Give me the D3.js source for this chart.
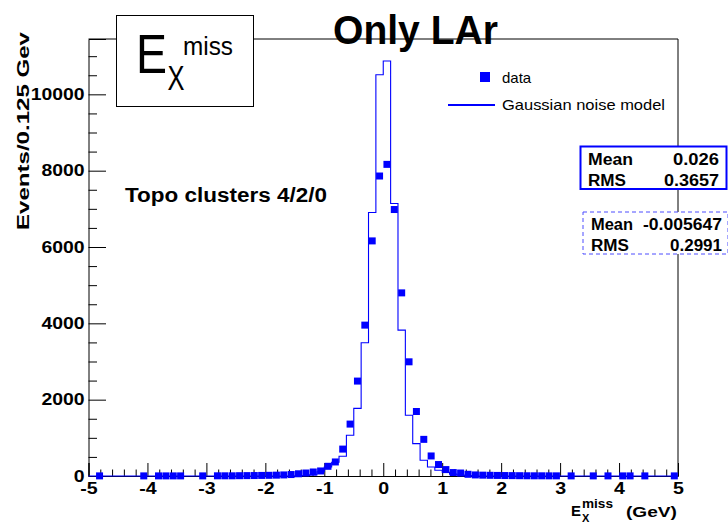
<!DOCTYPE html>
<html>
<head>
<meta charset="utf-8">
<script src="https://cdn.jsdelivr.net/npm/d3@7"></script>
<style>
  html, body { margin: 0; padding: 0; background: #fff; }
  svg { display: block; }
  text { font-family: "Liberation Sans", Arial, Helvetica, sans-serif; }
</style>
</head>
<body>
<svg id="chart" width="728" height="524"></svg>
<script>
// ---------------- data ----------------
const xTicks = [-5, -4, -3, -2, -1, 0, 1, 2, 3, 4, 5];
const yTicks = [0, 2000, 4000, 6000, 8000, 10000];

// Gaussian noise model histogram (bin width 0.125), first bin low edge:
const modelFirstEdge = -1.5;
const modelBinWidth = 0.125;
const modelCounts = [8, 15, 30, 110, 236, 360, 517, 1066, 1771, 3490, 6903, 10515,
                     10872, 7139, 3822, 1590, 849, 411, 236, 150, 97, 50, 25, 12];

// data points (bin centres and counts)
const dataCenters = [-4.8125, -4.0625, -3.8125, -3.6875, -3.5625, -3.4375, -3.0625,
  -2.8125, -2.6875, -2.5625, -2.4375, -2.3125, -2.1875, -2.0625, -1.9375, -1.8125,
  -1.6875, -1.5625, -1.4375, -1.3125, -1.1875, -1.0625, -0.9375, -0.8125, -0.6875,
  -0.5625, -0.4375, -0.3125, -0.1875, -0.0625, 0.0625, 0.1875, 0.3125, 0.4375,
  0.5625, 0.6875, 0.8125, 0.9375, 1.0625, 1.1875, 1.3125, 1.4375, 1.5625, 1.6875,
  1.8125, 1.9375, 2.0625, 2.1875, 2.3125, 2.4375, 2.5625, 2.6875, 2.8125, 2.9375,
  3.1875, 3.5625, 3.8125, 4.0625, 4.1875, 4.4375, 4.9375];
const dataCounts = [3, 3, 3, 3, 3, 3, 3,
  5, 5, 5, 8, 10, 12, 15, 18, 22,
  28, 38, 58, 78, 105, 132, 254, 368, 705,
  1360, 2487, 3953, 6160, 7860, 8165, 6982, 4798, 2992,
  1690, 960, 525, 300, 168, 90, 78, 45, 28, 22,
  18, 15, 12, 10, 8, 6, 5, 5, 4, 4,
  3, 3, 3, 3, 3, 3, 3];

const statsData = [["Mean", "0.026"], ["RMS", "0.3657"]];
const statsModel = [["Mean", "-0.005647"], ["RMS", "0.2991"]];

// ---------------- layout ----------------
const svg = d3.select("#chart");
const X0 = 88.5, X1 = 678, Y0 = 476, Y1 = 39;
const x = d3.scaleLinear().domain([-5, 5]).range([X0, X1]);
const y = d3.scaleLinear().domain([0, 11450]).range([Y0, Y1]);
const BLUE = "#0000ff";

function fit(sel, w) {
  sel.each(function () { this.setAttribute("textLength", w); this.setAttribute("lengthAdjust", "spacingAndGlyphs"); });
  return sel;
}
function stretch(sel, f) {
  sel.each(function () {
    const L = this.getComputedTextLength();
    this.setAttribute("textLength", (L * f).toFixed(1));
    this.setAttribute("lengthAdjust", "spacingAndGlyphs");
  });
  return sel;
}

// frame
svg.append("line").attr("x1", X0).attr("x2", X1).attr("y1", Y1).attr("y2", Y1)
  .attr("stroke", "#000").attr("stroke-width", 1);
svg.append("line").attr("x1", X1).attr("x2", X1).attr("y1", Y1).attr("y2", Y0)
  .attr("stroke", "#000").attr("stroke-width", 1);

// axes
const fmt = d => String(d);
const xMinor = d3.range(-50, 51, 2).map(v => v / 10).filter(v => !xTicks.includes(v));
const gxMinor = svg.append("g").attr("transform", `translate(0,${Y0})`)
  .call(d3.axisBottom(x).tickValues(xMinor).tickSize(-6.5).tickFormat(""));
gxMinor.select(".domain").remove();
const gx = svg.append("g").attr("transform", `translate(0,${Y0})`)
  .call(d3.axisBottom(x).tickValues(xTicks).tickSize(-13).tickPadding(7).tickFormat(fmt));
gx.select(".domain").attr("stroke", "#000");
gx.selectAll("text").attr("font-size", 16).attr("font-weight", "bold").attr("fill", "#000")
  .style("font-family", "'Liberation Sans', Arial, sans-serif");
stretch(gx.selectAll("text"), 1.22);

const yMinor = d3.range(0, 11001, 500).filter(v => !yTicks.includes(v));
const gyMinor = svg.append("g").attr("transform", `translate(${X0},0)`)
  .call(d3.axisLeft(y).tickValues(yMinor).tickSize(-8.5).tickFormat(""));
gyMinor.select(".domain").remove();
const gy = svg.append("g").attr("transform", `translate(${X0},0)`)
  .call(d3.axisLeft(y).tickValues(yTicks).tickSize(-17.5).tickPadding(4).tickFormat(fmt));
gy.select(".domain").attr("stroke", "#000");
gy.selectAll("text").attr("font-size", 16).attr("font-weight", "bold").attr("fill", "#000")
  .style("font-family", "'Liberation Sans', Arial, sans-serif");
stretch(gy.selectAll("text"), 1.21);
svg.selectAll(".tick line").attr("stroke", "#000");

// model histogram (step line)
const pts = [[-5, 0], [modelFirstEdge, 0]];
modelCounts.forEach((c, i) => {
  const lo = modelFirstEdge + i * modelBinWidth;
  pts.push([lo, c]);
  pts.push([lo + modelBinWidth, c]);
});
pts.push([modelFirstEdge + modelCounts.length * modelBinWidth, 0]);
pts.push([5, 0]);
svg.append("path")
  .attr("d", d3.line().x(d => x(d[0])).y(d => y(d[1]))(pts))
  .attr("fill", "none").attr("stroke", BLUE).attr("stroke-width", 1.1);

// data markers
const MS = 7;
svg.append("g").selectAll("rect").data(dataCenters.map((c, i) => [c, dataCounts[i]]))
  .join("rect")
  .attr("x", d => x(d[0]) - MS / 2).attr("y", d => y(d[1]) - MS / 2)
  .attr("width", MS).attr("height", MS).attr("fill", BLUE);

// title
const title = svg.append("text").attr("x", 333).attr("y", 44)
  .attr("font-size", 41).attr("font-weight", "bold").attr("fill", "#000").text("Only LAr");
fit(title, 165);

// E_X^miss box
svg.append("rect").attr("x", 116.5).attr("y", 15.5).attr("width", 137).attr("height", 91)
  .attr("fill", "#fff").attr("stroke", "#000").attr("stroke-width", 1);
fit(svg.append("text").attr("x", 136).attr("y", 73).attr("font-size", 56).attr("fill", "#000").text("E"), 31);
fit(svg.append("text").attr("x", 167.5).attr("y", 90).attr("font-size", 35).attr("fill", "#000").text("X"), 17);
fit(svg.append("text").attr("x", 183).attr("y", 55).attr("font-size", 25).attr("fill", "#000").text("miss"), 50);

// legend
svg.append("rect").attr("x", 480).attr("y", 72).attr("width", 10).attr("height", 10).attr("fill", BLUE);
svg.append("text").attr("x", 502).attr("y", 83).attr("font-size", 15).attr("fill", "#000").text("data");
svg.append("line").attr("x1", 448).attr("x2", 495).attr("y1", 105).attr("y2", 105)
  .attr("stroke", BLUE).attr("stroke-width", 2);
fit(svg.append("text").attr("x", 502).attr("y", 109.5).attr("font-size", 15).attr("fill", "#000")
  .text("Gaussian noise model"), 163);

// stat boxes
function statBox(x0, y0, w, h, rows, xL, xR, baselines, widths, dashed) {
  const r = svg.append("rect").attr("x", x0).attr("y", y0).attr("width", w).attr("height", h)
    .attr("fill", "#fff");
  if (dashed) r.attr("stroke", "#4d4dff").attr("stroke-width", 1).attr("stroke-dasharray", "4,3");
  else r.attr("stroke", BLUE).attr("stroke-width", 2);
  rows.forEach((row, i) => {
    fit(svg.append("text").attr("x", xL).attr("y", baselines[i]).attr("font-size", 16)
      .attr("font-weight", "bold").attr("fill", "#000").text(row[0]), widths[i][0]);
    fit(svg.append("text").attr("x", xR).attr("y", baselines[i]).attr("font-size", 16)
      .attr("font-weight", "bold").attr("text-anchor", "end").attr("fill", "#000").text(row[1]), widths[i][1]);
  });
}
statBox(580.5, 146.5, 146, 42.5, statsData, 588, 719, [165, 186], [[45, 46], [38, 55]], false);
statBox(583, 212, 145, 42, statsModel, 591, 722, [230, 251], [[42, 79], [38, 52]], true);

// annotation
fit(svg.append("text").attr("x", 125).attr("y", 202).attr("font-size", 20).attr("font-weight", "bold")
  .attr("fill", "#000").text("Topo clusters 4/2/0"), 202);

// y title
fit(svg.append("text").attr("transform", "translate(29,32) rotate(-90)").attr("text-anchor", "end")
  .attr("font-size", 17).attr("font-weight", "bold").attr("fill", "#000").text("Events/0.125 Gev"), 198);

// x title
svg.append("text").attr("x", 571).attr("y", 516).attr("font-size", 15).attr("font-weight", "bold").attr("fill", "#000").text("E");
svg.append("text").attr("x", 582).attr("y", 521.5).attr("font-size", 11).attr("font-weight", "bold").attr("fill", "#000").text("X");
fit(svg.append("text").attr("x", 582).attr("y", 508).attr("font-size", 12).attr("font-weight", "bold").attr("fill", "#000").text("miss"), 31);
fit(svg.append("text").attr("x", 626).attr("y", 516.5).attr("font-size", 15).attr("font-weight", "bold").attr("fill", "#000").text("(GeV)"), 51);
</script>
</body>
</html>
